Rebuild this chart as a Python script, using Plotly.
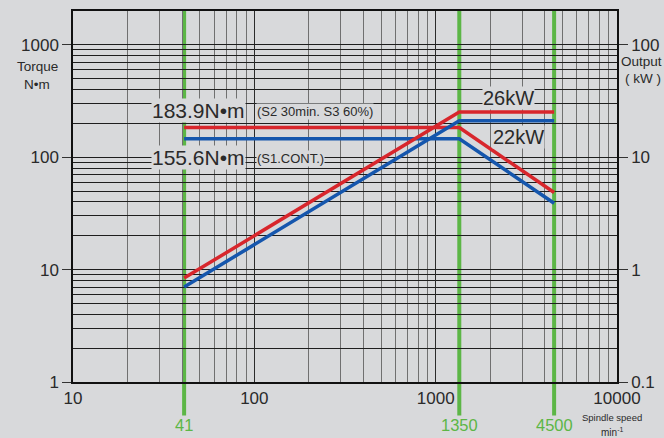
import math
import plotly.graph_objects as go

# ---- data ----
speed = [41, 1350, 4500]                 # min^-1
torque_s2 = [184, 184, 48.5]             # N·m  (S2 30min, S3 60%)
torque_s1 = [146, 146, 39]               # N·m  (S1 cont.)
power_s2 = [0.84, 25.3, 25.3]            # kW
power_s1 = [0.70, 21.1, 21.1]            # kW
marker_speeds = [41, 1350, 4500]
x_ticks = [10, 100, 1000, 10000]
y_ticks = [1, 10, 100, 1000]
y2_ticks = [0.1, 1, 10, 100]
y2_labels = ["0.1", "1", "10", "100"]

BG = "#d8d9db"
RED = "#d8262c"
BLUE = "#1556ad"
GREEN = "#5cb646"
TXT = "#2a2a2a"
FONT = "Liberation Sans"

def minors(decades):
    out = []
    for d in decades:
        out += [k * d for k in range(2, 10)]
    return out

fig = go.Figure()
fig.add_trace(go.Scatter(x=speed, y=torque_s2, mode="lines",
                         line=dict(color=RED, width=3.5), yaxis="y"))
fig.add_trace(go.Scatter(x=speed, y=torque_s1, mode="lines",
                         line=dict(color=BLUE, width=3.5), yaxis="y"))
fig.add_trace(go.Scatter(x=speed, y=power_s2, mode="lines",
                         line=dict(color=RED, width=3.5), yaxis="y2"))
fig.add_trace(go.Scatter(x=speed, y=power_s1, mode="lines",
                         line=dict(color=BLUE, width=3.5), yaxis="y2"))

for s in marker_speeds:
    fig.add_shape(type="line", xref="x", yref="paper", x0=s, x1=s,
                  y0=-0.09, y1=1, line=dict(color=GREEN, width=4), layer="below")
    fig.add_annotation(x=math.log10(s), xref="x", y=-0.115, yref="paper",
                       text=str(s), showarrow=False, yanchor="middle",
                       font=dict(family=FONT, size=16.5, color=GREEN))

def lab(x, y, text, size, anchor="center", bg=True):
    kw = dict(bgcolor=BG) if bg else {}
    fig.add_annotation(x=x, y=y, xref="paper", yref="paper", text=text,
                       showarrow=False, xanchor=anchor, yanchor="middle",
                       font=dict(family=FONT, size=size, color=TXT),
                       borderpad=0, **kw)

# pixel helpers (plot area 73..617 x, 11..382 y)
def px(xp):
    return (xp - 73) / (617 - 73)
def py(yp):
    return (382 - yp) / (382 - 11)

lab(px(151), py(110), "183.9N•m", 21, "left")
lab(px(256), py(112), "(S2 30min. S3 60%)", 13, "left")
lab(px(151), py(157), "155.6N•m", 21, "left")
lab(px(256), py(158), "(S1.CONT.)", 13, "left")
lab(px(508), py(98), "26kW", 20)
lab(px(518), py(137), "22kW", 20)
lab(px(37), py(67), "Torque", 13.5, bg=False)
lab(px(37), py(84), "N•m", 13.5, bg=False)
lab(px(620), py(62), "Output", 13.5, "left", bg=False)
lab(px(643), py(79), "( kW )", 13.5, bg=False)
lab(px(612), py(418), "Spindle speed", 9.5, bg=False)
lab(px(612), py(432), "min<sup>-1</sup>", 10, bg=False)

fig.update_layout(
    width=664, height=438,
    margin=dict(l=73, r=47, t=11, b=56, autoexpand=False),
    paper_bgcolor=BG, plot_bgcolor=BG,
    showlegend=False,
    xaxis=dict(type="log", range=[1, 4], tickvals=x_ticks,
               ticktext=[str(v) for v in x_ticks], ticks="",
               showgrid=True, gridcolor="#2b2b2b", gridwidth=1.2,
               minor=dict(tickvals=minors([10, 100, 1000]), showgrid=True,
                          gridcolor="#707070", gridwidth=1.3, ticks=""),
               showline=True, linecolor="#111", linewidth=1.5, mirror=True,
               zeroline=False, tickfont=dict(family=FONT, size=17, color=TXT)),
    yaxis=dict(type="log", range=[0, math.log10(2000)], tickvals=y_ticks,
               ticktext=[str(v) for v in y_ticks], ticks="outside", ticklen=9,
               tickcolor="#333", showgrid=True, gridcolor="#1e1e1e", gridwidth=1.2,
               minor=dict(tickvals=minors([1, 10, 100]), showgrid=True,
                          gridcolor="#1e1e1e", gridwidth=1.2, ticks=""),
               showline=True, linecolor="#111", linewidth=1.5,
               zeroline=False, tickfont=dict(family=FONT, size=17, color=TXT)),
    yaxis2=dict(type="log", overlaying="y", side="right",
                range=[-1, math.log10(200)], tickvals=y2_ticks, ticktext=y2_labels,
                ticks="outside", ticklen=9, tickcolor="#333", showgrid=False,
                showline=True, linecolor="#111", linewidth=1.5, zeroline=False,
                tickfont=dict(family=FONT, size=17, color=TXT)),
)

fig.write_html("out.html", config={"displayModeBar": False},
               post_script="document.body.style.margin='0';document.body.style.background='%s';" % BG)
